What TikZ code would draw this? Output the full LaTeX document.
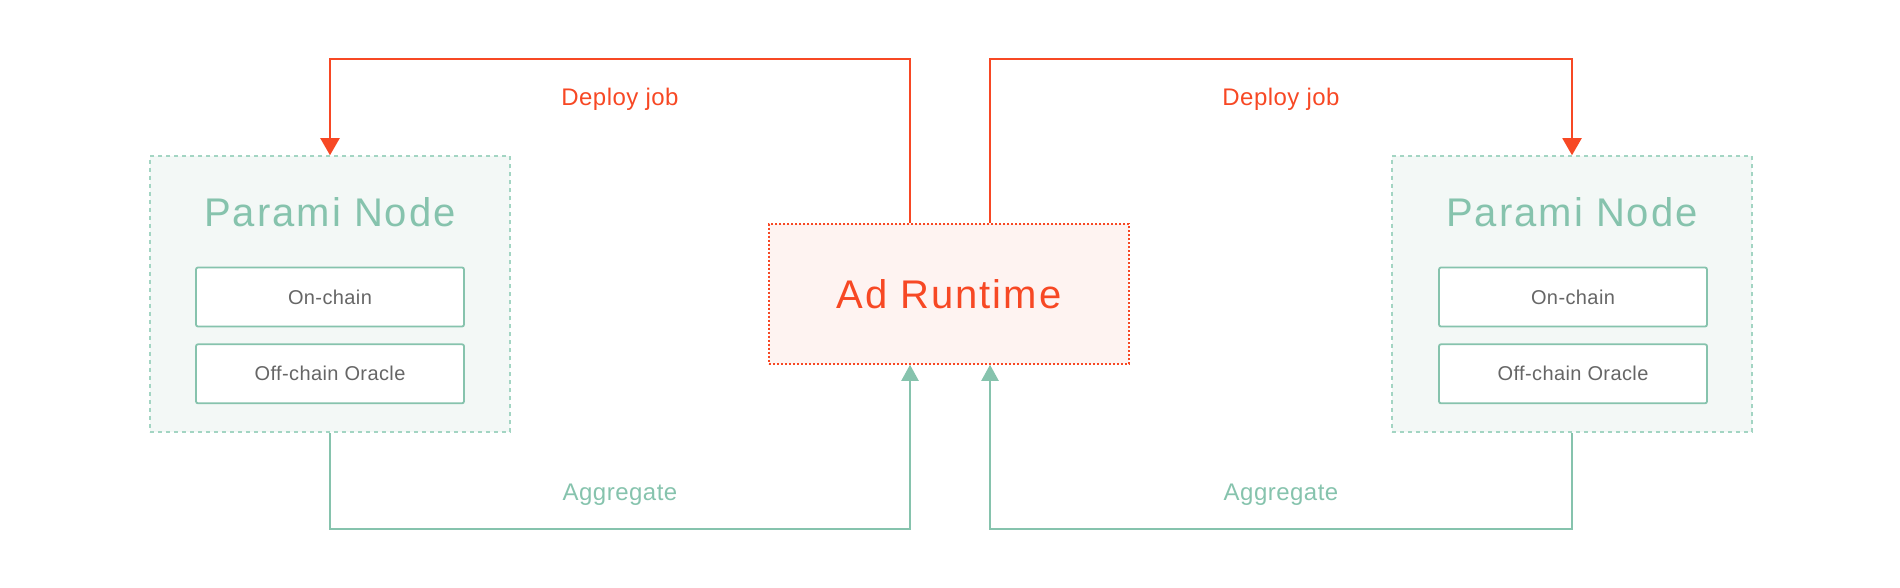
\documentclass[tikz,border=0pt]{standalone}
\usepackage{fontspec}
\setmainfont{Liberation Sans}
\newfontfamily\widefont[LetterSpace=5]{Liberation Sans}
\newfontfamily\labelfont[LetterSpace=2]{Liberation Sans}
\usetikzlibrary{arrows.meta,positioning}

\definecolor{paramigreen}{HTML}{86C3AD}
\definecolor{paramiedge}{HTML}{A3D5C3}
\definecolor{paramifill}{HTML}{F3F8F6}
\definecolor{adred}{HTML}{F74824}
\definecolor{adfill}{HTML}{FEF3F1}
\definecolor{labelgray}{HTML}{666666}

\tikzset{
  paramibox/.style={draw=paramiedge, fill=paramifill, line width=1.5pt,
    dash pattern=on 4pt off 4pt, minimum width=360pt, minimum height=276pt},
  adbox/.style={draw=adred, fill=adfill, line width=1.5pt,
    dash pattern=on 2pt off 2pt, minimum width=360pt, minimum height=140pt,
    text=adred, font=\widefont\fontsize{40}{48}\selectfont},
  partbox/.style={draw=paramigreen, fill=white, line width=1.8pt, rounded corners=2pt,
    minimum width=268pt, minimum height=59pt, text=labelgray,
    font=\labelfont\fontsize{20}{24}\selectfont},
  title/.style={text=paramigreen, font=\widefont\fontsize{40}{48}\selectfont},
  deploy/.style={draw=adred, line width=2pt, -{Triangle[length=17pt,width=19pt]}},
  aggr/.style={draw=paramigreen, line width=2pt, -{Triangle[length=16pt,width=17pt]}},
  flowlabel/.style={font=\labelfont\fontsize{24}{28}\selectfont},
}

\begin{document}
\begin{tikzpicture}[x=1pt, y=-1pt, inner sep=0pt]
    \useasboundingbox (0,0) rectangle (1900,588);

    % boxes
    \node[paramibox] (left) at (330,294) {};
    \node[paramibox] (right) at (1572,294) {};
    \node[adbox] (ad) at (949,294) {Ad Runtime};

    \node[title] (lefttitle) at (330,212) {Parami Node};
    \node[partbox] (lefton) at (330,297) {On-chain};
    \node[partbox, below=16pt of lefton] (leftoff) {Off-chain Oracle};

    \node[title] (righttitle) at (1572,212) {Parami Node};
    \node[partbox] (righton) at (1573,297) {On-chain};
    \node[partbox, below=16pt of righton] (rightoff) {Off-chain Oracle};

    % deploy job
    \draw[deploy] ([xshift=-39pt]ad.north) |- ([yshift=96pt]left.north)
        node[flowlabel, text=adred, pos=0.75, yshift=-40pt] {Deploy job} -- (left.north);
    \draw[deploy] ([xshift=41pt]ad.north) |- ([yshift=96pt]right.north)
        node[flowlabel, text=adred, pos=0.75, yshift=-40pt] {Deploy job} -- (right.north);

    % aggregate
    \draw[aggr] (left.south) -- ++(0,96) -| ([xshift=-39pt]ad.south)
        node[flowlabel, text=paramigreen, pos=0.25, yshift=34pt] {Aggregate};
    \draw[aggr] (right.south) -- ++(0,96) -| ([xshift=41pt]ad.south)
        node[flowlabel, text=paramigreen, pos=0.25, yshift=34pt] {Aggregate};

\end{tikzpicture}
\end{document}
